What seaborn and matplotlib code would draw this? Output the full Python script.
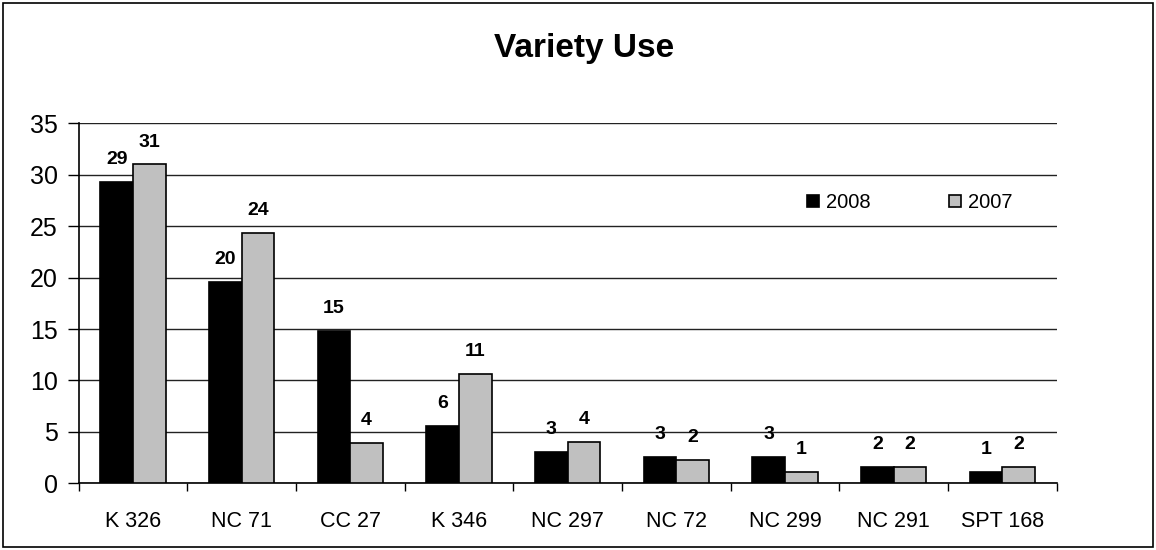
import matplotlib
matplotlib.use("Agg")
import matplotlib.pyplot as plt
import seaborn as sns
import pandas as pd
from matplotlib.patches import Rectangle
from matplotlib.ticker import FixedLocator

varieties = ["K 326", "NC 71", "CC 27", "K 346", "NC 297", "NC 72", "NC 299", "NC 291", "SPT 168"]
years = ["2008", "2007"]
v2008 = [29.3, 19.6, 14.85, 5.6, 3.07, 2.56, 2.56, 1.62, 1.13]
v2007 = [31.0, 24.3, 3.95, 10.6, 3.98, 2.23, 1.13, 1.62, 1.62]
yticks = [0, 5, 10, 15, 20, 25, 30, 35]
title = "Variety Use"

df = pd.DataFrame({
    "Variety": varieties * 2,
    "Year": ["2008"] * len(varieties) + ["2007"] * len(varieties),
    "Value": v2008 + v2007,
})

sns.set_theme(style="white")
plt.rcParams["font.family"] = ["Liberation Sans", "DejaVu Sans"]
plt.rcParams["text.color"] = "black"
plt.rcParams["xtick.color"] = "black"
plt.rcParams["ytick.color"] = "black"
plt.rcParams["xtick.labelcolor"] = "black"
plt.rcParams["ytick.labelcolor"] = "black"

fig = plt.figure(figsize=(11.56, 5.5), dpi=100)
ax = fig.add_axes([0.068, 0.1213, 0.846, 0.6545])

sns.barplot(data=df, x="Variety", y="Value", hue="Year", hue_order=years,
            order=varieties, palette={"2008": "#000000", "2007": "#C0C0C0"},
            width=0.6, edgecolor="black", linewidth=1.2, saturation=1,
            errorbar=None, ax=ax, zorder=3)

for cont in ax.containers:
    ax.bar_label(cont, fmt="%.0f", padding=10, fontsize=14, fontweight="bold", color="black")

ax.set_ylim(0, 35)
ax.set_xlim(-0.5, len(varieties) - 0.5)
ax.set_yticks(yticks)
ax.yaxis.grid(True, color="#222222", linewidth=1.0, zorder=0)
ax.set_axisbelow(True)
ax.tick_params(axis="y", which="major", left=True, length=8, width=1, color="black",
               labelsize=18, pad=7, direction="out", labelcolor="black")
ax.set_xticks(range(len(varieties)))
ax.set_xticklabels(varieties)
ax.tick_params(axis="x", which="major", bottom=False, labelsize=15.5, pad=14, labelcolor="black")
ax.xaxis.set_minor_locator(FixedLocator([i - 0.5 for i in range(len(varieties) + 1)]))
ax.tick_params(axis="x", which="minor", bottom=True, length=6, width=1, color="black", direction="out")
ax.set_xlabel("")
ax.set_ylabel("")
for s in ["top", "right"]:
    ax.spines[s].set_visible(False)
for s in ["left", "bottom"]:
    ax.spines[s].set_color("black")
    ax.spines[s].set_linewidth(1.2)

handles, labels = ax.get_legend_handles_labels()
leg = ax.legend(handles, labels, ncol=2, frameon=False, fontsize=14.5,
                loc="center left", bbox_to_anchor=(0.726, 0.78),
                handlelength=0.6, handleheight=0.6, handletextpad=0.35, columnspacing=3.9)
for t in leg.get_texts():
    t.set_color("black")

fig.text(0.505, 1 - 57 / 550, title, ha="center", va="baseline",
         fontsize=24, fontweight="bold", color="black")

fig.patches.append(Rectangle((3 / 1156, 3 / 550), 1 - 6 / 1156, 1 - 6 / 550,
                             transform=fig.transFigure, fill=False,
                             edgecolor="black", linewidth=1.2))

fig.savefig("out.png", dpi=100)
